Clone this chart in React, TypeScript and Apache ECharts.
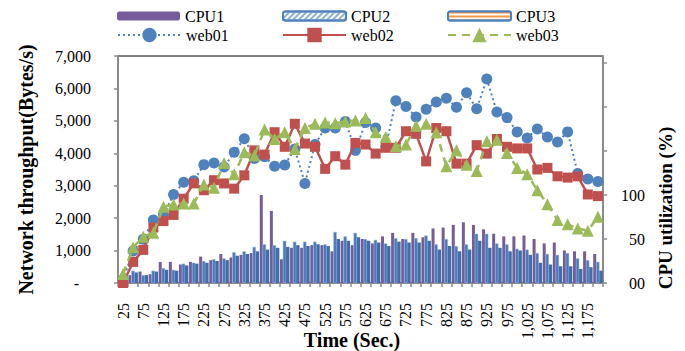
import React, { useEffect, useRef } from "react";
import * as echarts from "echarts";

const categories = ["25","50","75","100","125","150","175","200","225","250","275","300","325","350","375","400","425","450","475","500","525","550","575","600","625","650","675","700","725","750","775","800","825","850","875","900","925","950","975","1,000","1,025","1,050","1,075","1,100","1,125","1,150","1,175","1,200"];

const cpu1 = [5,9,13,10,24,24,21,24,30,26,33,29,32,34,100,82,27,40,40,43,43,36,48,43,50,45,53,57,50,57,52,62,63,66,69,66,61,56,53,53,54,50,45,46,37,36,36,33];
const cpu2 = [8,14,9,14,17,15,22,23,25,27,28,35,36,41,44,43,48,47,47,47,44,58,53,57,50,49,45,51,50,51,54,44,50,42,44,56,56,45,44,39,38,34,33,32,34,28,26,24];
const cpu3 = [6,12,9,13,15,14,20,22,23,25,26,31,33,36,38,40,41,43,42,44,42,50,48,52,48,46,42,47,46,46,48,38,42,36,38,48,40,40,36,37,32,23,21,19,19,16,18,14];

const web01 = [100,990,1350,1940,2100,2730,3110,3150,3650,3700,3580,4030,4450,3840,3890,3600,3640,4130,3070,4270,4780,4780,4980,4090,4950,4780,4200,5620,5440,5120,5360,5580,5700,5420,5870,5370,6290,5270,5100,4660,4470,4750,4500,4350,4660,3380,3210,3130];
const web02 = [0,650,1020,1710,1910,2100,2600,3070,2860,3170,3070,2910,3320,4090,3960,4650,4200,4910,4300,4200,3520,3910,3650,4320,4270,3990,4170,4170,4680,4600,3750,4780,4680,3680,3680,4250,3990,4440,4200,4150,4150,3500,3550,3290,3250,3290,2730,2680];
const web03 = [280,1100,1430,1550,2350,2420,2450,2450,3040,2940,3700,3350,4030,3930,4730,4440,4650,4130,4780,4910,4950,4930,4980,5010,5090,4650,4500,4220,4270,4850,4910,4650,3600,4090,3650,3450,4370,4420,4010,3550,3350,2860,2430,1940,1810,1680,1610,2040];

const leftTicks = { min: 0, max: 7000, interval: 1000 };
const rightTicks = { min: 0, max: 258, interval: 50 };
const rightLabels: Record<number, string> = { 0: "00", 50: "50", 100: "100" };

const FONT = '"Liberation Serif", "Times New Roman", serif';
const BLUE = "#4F81BD";
const RED = "#C0504D";
const GREEN = "#9BBB59";
const PURPLE = "#765C98";
const AXIS = "#8C8C8C";

export default function App() {
  const ref = useRef<HTMLDivElement>(null);
  useEffect(() => {
    if (!ref.current) return;
    const chart = echarts.init(ref.current, undefined, { renderer: "svg" });
    const legendBase = {
      padding: 0,
      selectedMode: false,
      itemWidth: 63,
      textStyle: { fontFamily: FONT, fontSize: 16, color: "#000" },
    };
    chart.setOption({
      animation: false,
      backgroundColor: "#fff",
      grid: { left: 118, right: 82, top: 56, bottom: 68, show: true, borderColor: "#000", borderWidth: 1, backgroundColor: "transparent" },
      legend: [
        { ...legendBase, left: 117, top: 8, itemHeight: 9, data: [{ name: "CPU1" }] },
        { ...legendBase, left: 282, top: 8, itemHeight: 9, data: [{ name: "CPU2", itemStyle: { color: "#fff", borderColor: BLUE, borderWidth: 2, decal: { symbol: "rect", color: "#8DB0DA", dashArrayX: [1, 0], dashArrayY: [2, 2], rotation: -Math.PI / 4, symbolSize: 1 } } }] },
        { ...legendBase, left: 447, top: 8, itemHeight: 9, data: [{ name: "CPU3", itemStyle: { color: "#fff", borderColor: BLUE, borderWidth: 2, decal: { symbol: "rect", color: "#F79646", dashArrayX: [1, 0], dashArrayY: [1.5, 1.5], rotation: 0, symbolSize: 1 } } }] },
        { ...legendBase, left: 117, top: 27, itemHeight: 18, data: [{ name: "web01" }] },
        { ...legendBase, left: 282, top: 27, itemHeight: 18, data: [{ name: "web02" }] },
        { ...legendBase, left: 447, top: 27, itemHeight: 18, data: [{ name: "web03" }] },
      ],
      xAxis: {
        type: "category",
        data: categories,
        boundaryGap: true,
        axisLine: { lineStyle: { color: AXIS, width: 2 } },
        axisTick: { show: true, interval: 0, length: 4, lineStyle: { color: AXIS, width: 1.5 } },
        axisLabel: { interval: 1, rotate: 90, margin: 20, fontFamily: FONT, fontSize: 16, color: "#000" },
        splitLine: { show: false },
      },
      yAxis: [
        {
          type: "value",
          ...leftTicks,
          name: "Network throughput(Bytes/s)",
          nameLocation: "middle",
          nameGap: 82,
          nameTextStyle: { fontFamily: FONT, fontSize: 20, fontWeight: "bold", color: "#000" },
          axisLine: { show: true, lineStyle: { color: AXIS, width: 2 } },
          axisTick: { show: true, length: 4, lineStyle: { color: AXIS, width: 1.5 } },
          axisLabel: { margin: 27, fontFamily: FONT, fontSize: 16, color: "#000", formatter: (v: number) => (v === 0 ? "-   " : v.toLocaleString("en-US")) },
          splitLine: { show: false },
        },
        {
          type: "value",
          ...rightTicks,
          position: "right",
          axisLine: { show: true, lineStyle: { color: AXIS, width: 2 } },
          axisTick: { show: true, length: 4, lineStyle: { color: AXIS, width: 1.5 } },
          axisLabel: { margin: 42, align: "right", fontFamily: FONT, fontSize: 16, color: "#000", showMaxLabel: false, formatter: (v: number) => rightLabels[v] ?? "" },
          splitLine: { show: false },
        },
      ],
      series: [
        { name: "CPU1", type: "bar", yAxisIndex: 1, data: cpu1, barWidth: 3, barGap: "0%", itemStyle: { color: PURPLE }, z: 1 },
        { name: "CPU2", type: "bar", yAxisIndex: 1, data: cpu2, barWidth: 3.4, barGap: "-5%", itemStyle: { color: "#4A7BB8", borderColor: "#9FBBE0", borderWidth: 0.5 }, z: 2 },
        { name: "CPU3", type: "bar", yAxisIndex: 1, data: cpu3, barWidth: 3.4, barGap: "-5%", itemStyle: { color: "#416DA8" }, z: 2 },
        { name: "web01", type: "line", yAxisIndex: 0, data: web01, symbol: "circle", symbolSize: 11, showAllSymbol: true, lineStyle: { color: BLUE, width: 2, type: [2, 3] }, itemStyle: { color: BLUE }, z: 5 },
        { name: "web02", type: "line", yAxisIndex: 0, data: web02, symbol: "rect", symbolSize: 10, showAllSymbol: true, lineStyle: { color: RED, width: 2.5, type: "solid" }, itemStyle: { color: RED }, z: 6 },
        { name: "web03", type: "line", yAxisIndex: 0, data: web03, symbol: "triangle", symbolSize: 12, showAllSymbol: true, lineStyle: { color: GREEN, width: 2.5, type: [8, 6] }, itemStyle: { color: GREEN }, z: 7 },
      ],
      graphic: [
        { type: "text", x: 352, y: 340, style: { text: "Time (Sec.)", fontFamily: FONT, fontSize: 20, fontWeight: "bold", fill: "#000", align: "center", verticalAlign: "middle" } },
        { type: "text", x: 665, y: 208, rotation: Math.PI / 2, style: { text: "CPU utilization (%)", fontFamily: FONT, fontSize: 19, fontWeight: "bold", fill: "#000", align: "center", verticalAlign: "middle" } },
      ],
    });
    return () => chart.dispose();
  }, []);
  return <div ref={ref} style={{ position: "fixed", left: 0, top: 0, width: 685, height: 351 }} />;
}
